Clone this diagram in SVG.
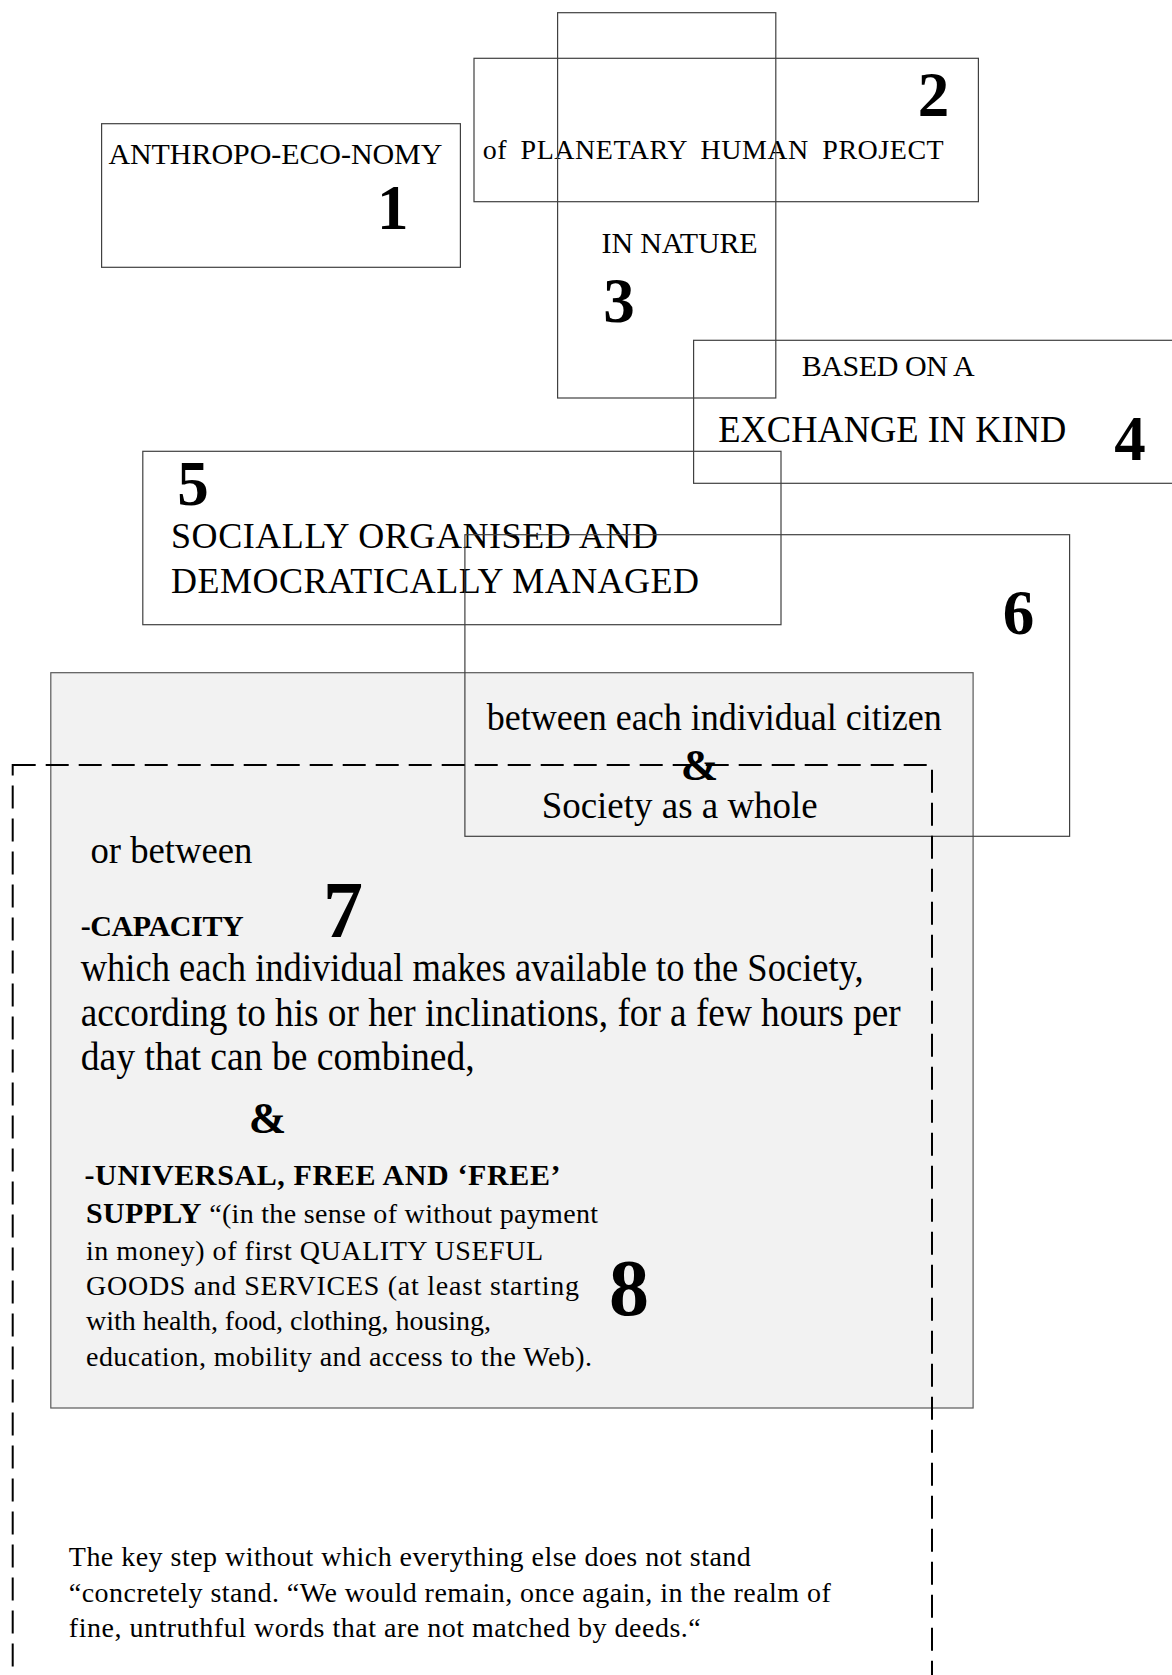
<svg xmlns="http://www.w3.org/2000/svg" width="1172" height="1675" viewBox="0 0 1172 1675">
<style>
.box{fill:none;stroke:#404040;stroke-width:1.2}
.gray{fill:#f2f2f2;stroke:#595959;stroke-width:1.2}
.dash{fill:none;stroke:#000;stroke-width:2;stroke-dasharray:23 10}
text{font-family:"Liberation Serif","Times New Roman",serif;fill:#000}
.t30{font-size:30px}
.t28{font-size:28px}
.t36{font-size:36px}
.t37{font-size:37px}
.t38{font-size:38px}
.t39{font-size:39px}
.num{font-size:63px;font-weight:bold;text-anchor:middle}
.big{font-size:80px;font-weight:bold;text-anchor:middle}
.amp{font-size:45px;font-weight:bold;text-anchor:middle}
.b30{font-size:30px;font-weight:bold}
</style>
<rect width="1172" height="1675" fill="#fff"/>
<g id="connectors"/>
<g id="node1">
<rect class="box" x="101.6" y="123.7" width="358.8" height="143.6"/>
<text class="t30" x="108.4" y="164" textLength="334">ANTHROPO-ECO-NOMY</text>
<text class="num" x="392.7" y="229">1</text>
</g>
<g id="node2">
<rect class="box" x="474" y="58.3" width="504.4" height="143.4"/>
<text class="t28" x="482.7" y="159" textLength="461" style="word-spacing:6px">of PLANETARY HUMAN PROJECT</text>
<text class="num" x="933.5" y="116">2</text>
</g>
<g id="node3">
<rect class="box" x="557.6" y="12.7" width="218.2" height="385.3"/>
<text class="t30" x="601.6" y="253" textLength="156">IN NATURE</text>
<text class="num" x="619" y="322">3</text>
</g>
<g id="node4">
<rect class="box" x="693.6" y="340.3" width="490" height="143"/>
<text class="t30" x="801.7" y="376" textLength="173">BASED ON A</text>
<text class="t37" x="718.3" y="442" textLength="348" lengthAdjust="spacingAndGlyphs">EXCHANGE IN KIND</text>
<text class="num" x="1130" y="460">4</text>
</g>
<g id="node5">
<rect class="box" x="142.8" y="451.3" width="638.2" height="173.4"/>
<text class="num" x="193" y="505">5</text>
<text class="t36" x="171" y="548" textLength="487">SOCIALLY ORGANISED AND</text>
<text class="t36" x="171" y="593" textLength="528">DEMOCRATICALLY MANAGED</text>
</g>
<g id="node7">
<rect class="gray" x="50.8" y="672.7" width="922.3" height="735.3"/>
<text class="t38" x="90.4" y="863" textLength="162" lengthAdjust="spacingAndGlyphs">or between</text>
<text class="b30" x="80.7" y="936" textLength="163">-CAPACITY</text>
<text class="big" x="343" y="937">7</text>
<text class="t39" x="80.7" y="981" textLength="783" lengthAdjust="spacingAndGlyphs">which each individual makes available to the Society,</text>
<text class="t39" x="80.7" y="1026" textLength="820" lengthAdjust="spacingAndGlyphs">according to his or her inclinations, for a few hours per</text>
<text class="t39" x="80.7" y="1070" textLength="394" lengthAdjust="spacingAndGlyphs">day that can be combined,</text>
<text class="amp" x="267.5" y="1133">&amp;</text>
<text class="b30" x="84.5" y="1185" textLength="476">-UNIVERSAL, FREE AND ‘FREE’</text>
<text class="t28" x="86" y="1223" textLength="512"><tspan style="font-weight:bold;font-size:30px">SUPPLY</tspan> “(in the sense of without payment</text>
<text class="t28" x="86" y="1260" textLength="457">in money) of first QUALITY USEFUL</text>
<text class="t28" x="86" y="1295" textLength="493">GOODS and SERVICES (at least starting</text>
<text class="t28" x="86" y="1330" textLength="405">with health, food, clothing, housing,</text>
<text class="t28" x="86" y="1366" textLength="506">education, mobility and access to the Web).</text>
<text class="big" x="629" y="1315">8</text>
</g>
<g id="node6">
<rect class="box" x="464.9" y="534.7" width="604.7" height="301.6"/>
<text class="num" x="1018.5" y="634">6</text>
<text class="t38" x="486.7" y="730" textLength="455" lengthAdjust="spacingAndGlyphs">between each individual citizen</text>
<text class="amp" x="699.5" y="780">&amp;</text>
<text class="t38" x="541.7" y="818" textLength="276" lengthAdjust="spacingAndGlyphs">Society as a whole</text>
</g>
<g id="note">
<rect class="dash" x="12.7" y="765" width="919.3" height="1000"/>
<text class="t28" x="68.8" y="1566" textLength="682">The key step without which everything else does not stand</text>
<text class="t28" x="68.8" y="1601.7" textLength="762">“concretely stand. “We would remain, once again, in the realm of</text>
<text class="t28" x="68.8" y="1637.3" textLength="632">fine, untruthful words that are not matched by deeds.“</text>
</g>
</svg>
